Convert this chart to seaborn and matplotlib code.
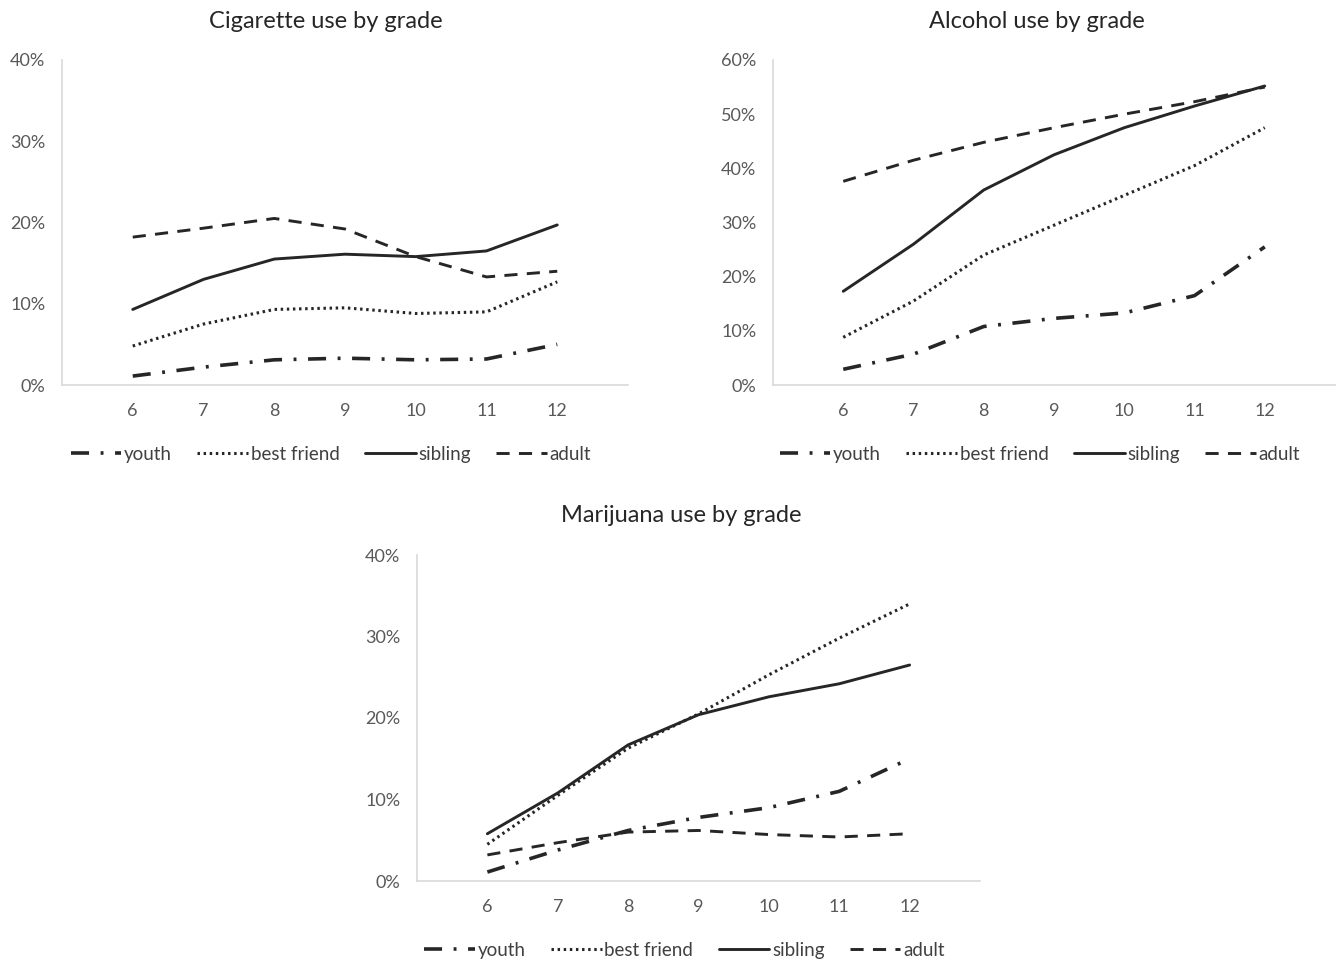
import numpy as np
import pandas as pd
import seaborn as sns
import matplotlib.pyplot as plt
from matplotlib.ticker import PercentFormatter

# grades on the x axis
grades = [6, 7, 8, 9, 10, 11, 12]
series_names = ['youth', 'best friend', 'sibling', 'adult']

# Cigarette use by grade (%)
cig_youth = [1.1, 2.2, 3.1, 3.3, 3.1, 3.2, 5.0]
cig_friend = [4.8, 7.5, 9.3, 9.5, 8.8, 9.0, 12.7]
cig_sibling = [9.3, 13.0, 15.5, 16.1, 15.8, 16.5, 19.7]
cig_adult = [18.2, 19.3, 20.5, 19.2, 15.8, 13.3, 14.0]

# Alcohol use by grade (%)
alc_youth = [2.9, 5.7, 10.8, 12.3, 13.3, 16.5, 25.5]
alc_friend = [8.8, 15.5, 24.0, 29.5, 35.0, 40.5, 47.5]
alc_sibling = [17.3, 26.0, 36.0, 42.5, 47.5, 51.5, 55.2]
alc_adult = [37.6, 41.5, 44.8, 47.5, 50.0, 52.3, 55.0]

# Marijuana use by grade (%)
mar_youth = [1.1, 3.8, 6.2, 7.8, 9.0, 11.0, 15.0]
mar_friend = [4.5, 10.5, 16.3, 20.5, 25.3, 29.8, 34.0]
mar_sibling = [5.8, 10.8, 16.7, 20.4, 22.6, 24.2, 26.5]
mar_adult = [3.2, 4.7, 6.0, 6.2, 5.7, 5.4, 5.8]

sns.set_style('white')
plt.rcParams['font.family'] = ['Lato', 'DejaVu Sans']

line_color = '#262626'
styles = {
    'youth': dict(ls=(0, (5, 3.2, 0.8, 3.2)), lw=2.6),
    'best friend': dict(ls=(0, (0.8, 1.2)), lw=2.2),
    'sibling': dict(ls='-', lw=2.1),
    'adult': dict(ls=(0, (4.5, 3.2)), lw=2.1),
}

W, H = 1342, 963
fig = plt.figure(figsize=(W / 100, H / 100), dpi=100)


def px_rect(left, right, top, bottom):
    return [left / W, 1 - bottom / H, (right - left) / W, (bottom - top) / H]


# title, series, y max, axes rect, title x, title y
panels = [
    ('Cigarette use by grade', [cig_youth, cig_friend, cig_sibling, cig_adult], 40,
     px_rect(62, 628, 60, 385), 326, 21),
    ('Alcohol use by grade', [alc_youth, alc_friend, alc_sibling, alc_adult], 60,
     px_rect(773, 1335, 60, 385), 1037, 21),
    ('Marijuana use by grade', [mar_youth, mar_friend, mar_sibling, mar_adult], 40,
     px_rect(417, 980, 555, 881), 681, 516),
]

for title, values, ymax, rect, title_x, title_y in panels:
    ax = fig.add_axes(rect)
    for name, vals in zip(series_names, values):
        df = pd.DataFrame({'grade': grades, 'pct': vals})
        sns.lineplot(data=df, x='grade', y='pct', ax=ax, color=line_color,
                     linestyle=styles[name]['ls'], linewidth=styles[name]['lw'],
                     label=name)
    ax.set_xlim(5, 13)
    ax.set_ylim(0, ymax)
    ax.set_xticks(grades)
    ax.set_yticks(np.arange(0, ymax + 1, 10))
    ax.yaxis.set_major_formatter(PercentFormatter(decimals=0))
    ax.set_xlabel('')
    ax.set_ylabel('')
    for s in ['top', 'right']:
        ax.spines[s].set_visible(False)
    for s in ['left', 'bottom']:
        ax.spines[s].set_color('#d9d9d9')
        ax.spines[s].set_linewidth(1.2)
    ax.tick_params(axis='both', length=0, colors='#595959', labelsize=13)
    ax.tick_params(axis='x', pad=13)
    ax.tick_params(axis='y', pad=12)
    leg = ax.legend(loc='upper center', bbox_to_anchor=(0.475, -0.135), ncol=4,
                    frameon=False, fontsize=13.5, handlelength=2.7,
                    handletextpad=0.15, columnspacing=1.35)
    for t in leg.get_texts():
        t.set_color('#404040')
    fig.text(title_x / W, 1 - title_y / H, title, ha='center', va='center',
             fontsize=17, color='#262626')

fig.savefig('out.png', dpi=100)
